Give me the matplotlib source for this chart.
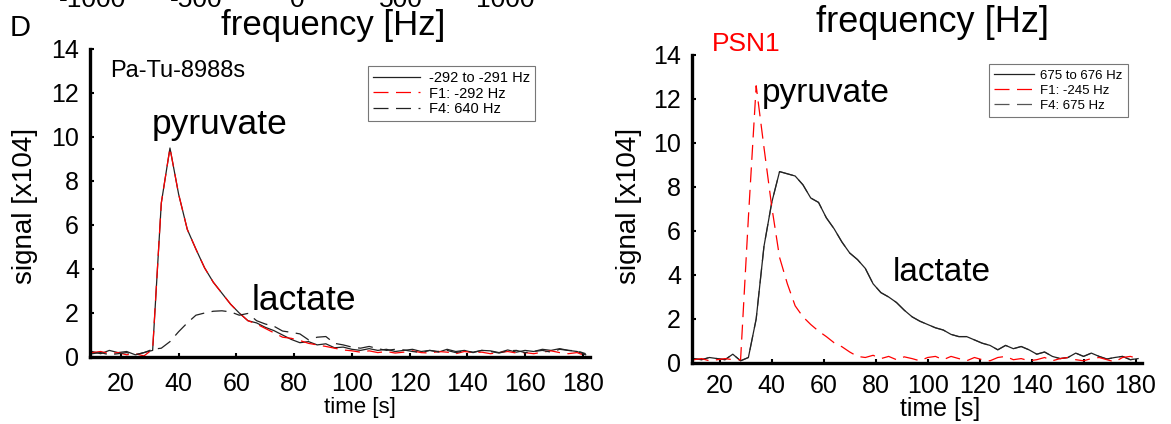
import matplotlib
matplotlib.use("Agg")
import matplotlib.pyplot as plt

plt.rcParams["font.family"] = ["Liberation Sans", "DejaVu Sans"]

# sampling times (s), shared by both panels
time_s = [10, 13, 16, 19, 22, 25, 28, 31, 34, 37, 40, 43, 46, 49, 52, 55, 58, 61,
          64, 67, 70, 73, 76, 79, 82, 85, 88, 91, 94, 97, 100, 103, 106, 109, 112,
          115, 118, 121, 124, 127, 130, 133, 136, 139, 142, 145, 148, 151, 154,
          157, 160, 163, 166, 169, 172, 175, 178, 181]

# Pa-Tu-8988s (signal x10^4)
patu_band = [0.25, 0.15, 0.3, 0.2, 0.25, 0.1, 0.2, 0.3, 7.0, 9.5, 7.4, 5.8, 4.9, 4.05,
             3.4, 2.9, 2.4, 2.0, 1.65, 1.55, 1.35, 1.2, 1.0, 0.8, 0.65, 0.7, 0.55, 0.6,
             0.42, 0.45, 0.35, 0.3, 0.38, 0.3, 0.35, 0.25, 0.3, 0.35, 0.25, 0.3, 0.22,
             0.35, 0.25, 0.3, 0.2, 0.3, 0.28, 0.2, 0.32, 0.22, 0.3, 0.25, 0.35, 0.3,
             0.38, 0.3, 0.25, 0.1]
patu_f1 = [0.2, 0.25, 0.15, 0.2, 0.1, 0.15, 0.05, 0.35, 7.0, 9.5, 7.4, 5.8, 4.9, 4.05,
           3.4, 2.9, 2.4, 2.0, 1.65, 1.5, 1.3, 1.1, 0.9, 0.85, 0.75, 0.62, 0.55, 0.48,
           0.4, 0.32, 0.28, 0.22, 0.28, 0.2, 0.25, 0.18, 0.22, 0.28, 0.2, 0.18, 0.25,
           0.22, 0.15, 0.25, 0.2, 0.22, 0.15, 0.2, 0.25, 0.18, 0.2, 0.15, 0.22, 0.28,
           0.2, 0.15, 0.2, 0.05]
patu_f4 = [0.15, 0.2, 0.1, 0.15, 0.2, 0.1, 0.2, 0.35, 0.4, 0.7, 1.15, 1.55, 1.9, 2.0,
           2.08, 2.1, 2.05, 1.9, 1.98, 1.65, 1.5, 1.4, 1.18, 1.12, 1.05, 0.78, 0.9,
           0.93, 0.62, 0.55, 0.45, 0.4, 0.48, 0.38, 0.3, 0.35, 0.32, 0.25, 0.2, 0.3,
           0.25, 0.3, 0.2, 0.28, 0.22, 0.3, 0.25, 0.18, 0.28, 0.3, 0.2, 0.25, 0.3,
           0.22, 0.35, 0.3, 0.28, 0.15]

# PSN1 (signal x10^4)
psn_band = [0.2, 0.15, 0.25, 0.2, 0.15, 0.4, 0.1, 0.25, 2.0, 5.3, 7.3, 8.7, 8.6, 8.5,
            8.1, 7.5, 7.3, 6.6, 6.1, 5.5, 5.0, 4.7, 4.3, 3.6, 3.2, 3.0, 2.75, 2.4, 2.1,
            1.9, 1.75, 1.6, 1.5, 1.3, 1.2, 1.2, 1.05, 0.9, 0.8, 0.6, 0.8, 0.65, 0.75,
            0.6, 0.4, 0.5, 0.3, 0.2, 0.25, 0.45, 0.3, 0.45, 0.3, 0.18, 0.25, 0.3, 0.15,
            0.2]
psn_f1 = [0.15, 0.2, 0.1, 0.15, 0.2, 0.15, 0.15, 6.6, 12.6, 9.8, 7.1, 4.8, 3.6, 2.6,
          2.1, 1.75, 1.45, 1.2, 0.92, 0.74, 0.5, 0.3, 0.25, 0.35, 0.2, 0.3, 0.15, 0.28,
          0.2, 0.1, 0.25, 0.3, 0.15, 0.3, 0.2, 0.1, 0.25, 0.15, 0.1, 0.25, 0.3, 0.15,
          0.2, 0.1, 0.15, 0.25, 0.1, 0.2, 0.25, 0.15, 0.1, 0.2, 0.25, 0.15, 0.05, 0.25,
          0.3, 0.2]
psn_f4 = psn_band

x_ticks = [20, 40, 60, 80, 100, 120, 140, 160, 180]
y_ticks = [0, 2, 4, 6, 8, 10, 12, 14]
top_ticks = ["-1000", "-500", "0", "500", "1000"]

W, H = 1171, 424
fig = plt.figure(figsize=(W / 100, H / 100), dpi=100)


def px_axes(x0, x1, y_top, y_bot):
    return fig.add_axes([x0 / W, 1 - y_bot / H, (x1 - x0) / W, (y_bot - y_top) / H])


def style(ax, pad_x, pad_y):
    for s in ("top", "right"):
        ax.spines[s].set_visible(False)
    for s in ("left", "bottom"):
        ax.spines[s].set_linewidth(2.4)
    ax.set_xlim(9.3, 182.5)
    ax.set_ylim(0, 14)
    ax.set_xticks(x_ticks)
    ax.set_yticks(y_ticks)
    ax.tick_params(direction="in", length=3, width=1.5, labelsize=18)
    ax.tick_params(axis="x", pad=pad_x)
    ax.tick_params(axis="y", pad=pad_y)
    ax.set_ylabel("signal [x104]", fontsize=20)


def box(leg):
    leg.get_frame().set_edgecolor("#555555")
    leg.get_frame().set_linewidth(0.8)


# left panel
ax1 = px_axes(90, 590, 49, 357)
style(ax1, 11, 8)
ax1.plot(time_s, patu_band, color="#222222", lw=0.9, label="-292 to -291 Hz")
ax1.plot(time_s, patu_f1, color="red", lw=0.9, dashes=(12, 6), label="F1: -292 Hz")
ax1.plot(time_s, patu_f4, color="#222222", lw=0.9, dashes=(12, 6), label="F4: 640 Hz")
ax1.yaxis.set_label_coords(-0.105, 0.49)
ax1.set_xlabel("time [s]", fontsize=16)
ax1.xaxis.set_label_coords(0.54, -0.13)
ax1.text(0.04, 0.93, "Pa-Tu-8988s", transform=ax1.transAxes, fontsize=17, va="center")
ax1.text(0.123, 0.755, "pyruvate", transform=ax1.transAxes, fontsize=25.5, va="center")
ax1.text(0.323, 0.185, "lactate", transform=ax1.transAxes, fontsize=25.5, va="center")
leg1 = ax1.legend(loc="upper left", bbox_to_anchor=(0.556, 0.945), fontsize=10.5,
                  handlelength=3.2, frameon=True, fancybox=False, borderpad=0.35,
                  labelspacing=0.1, handletextpad=0.6, borderaxespad=0)
box(leg1)

# right panel
ax2 = px_axes(692, 1142, 55, 363)
style(ax2, 8, 8)
ax2.plot(time_s, psn_f4, color="#555555", lw=0.9, dashes=(12, 6), label="F4: 675 Hz")
ax2.plot(time_s, psn_band, color="#222222", lw=0.9, label="675 to 676 Hz")
ax2.plot(time_s, psn_f1, color="red", lw=0.9, dashes=(12, 6), label="F1: -245 Hz")
ax2.yaxis.set_label_coords(-0.11, 0.51)
ax2.set_xlabel("time [s]", fontsize=18)
ax2.xaxis.set_label_coords(0.551, -0.11)
ax2.text(0.045, 1.035, "PSN1", transform=ax2.transAxes, fontsize=19, color="red",
         va="center")
ax2.text(0.155, 0.875, "pyruvate", transform=ax2.transAxes, fontsize=24, va="center")
ax2.text(0.445, 0.295, "lactate", transform=ax2.transAxes, fontsize=24, va="center")
h, l = ax2.get_legend_handles_labels()
order = [1, 2, 0]
leg2 = ax2.legend([h[i] for i in order], [l[i] for i in order], loc="upper left",
                  bbox_to_anchor=(0.66, 0.97), fontsize=9.5, handlelength=3.0,
                  frameon=True, fancybox=False, borderpad=0.4, labelspacing=0.2,
                  handletextpad=0.5, borderaxespad=0)
box(leg2)

# remnants of the panels above
fig.text(10 / W, 1 - 28 / H, "D", fontsize=21, va="center")
fig.text(333 / W, 1 - 25 / H, "frequency [Hz]", fontsize=25, ha="center", va="center")
fig.text(932 / W, 1 - 22 / H, "frequency [Hz]", fontsize=26, ha="center", va="center")
for lab, xp in zip(top_ticks, [92, 196, 297, 401, 505]):
    fig.text(xp / W, 1 - 7 / H, lab, fontsize=19, ha="center", va="baseline")

fig.savefig("out.png", dpi=100)
